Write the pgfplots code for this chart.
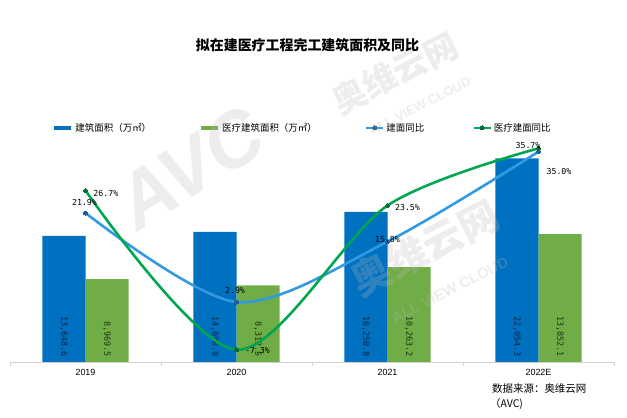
\documentclass[border=0pt]{standalone}
\usepackage{fontspec}
\usepackage{pgfplots}
\usepackage{pgfplotstable}
\pgfplotsset{compat=1.18}
\setmainfont{Liberation Sans}
\newfontfamily\cjk{Noto Sans CJK SC}
\newfontfamily\mono{DejaVu Sans Mono}

\definecolor{barblue}{HTML}{0070C0}
\definecolor{bargreen}{HTML}{70AD47}
\definecolor{lineblue}{HTML}{3399E0}
\definecolor{linegreen}{HTML}{00A650}
\definecolor{mkblue}{HTML}{1F5F9F}
\definecolor{mkgreen}{HTML}{0E6B35}
\definecolor{lblblue}{HTML}{0F2440}
\definecolor{lblgreen}{HTML}{1E3312}
\definecolor{wm}{HTML}{B8B8B8}

% bar values (万㎡)
\pgfplotstableread{
x  area     med
0  13648.6  8969.5
1  14098.0  8312.5
2  16250.8  10263.2
3  22054.3  13852.1
}\bars

% growth rates (%), label offsets in bp
\pgfplotstableread{
x  y     dx    dy
0  21.9  -1    10.4
1  2.9   -1.5  12
2  15.8  0     1.6
3  35.0  20.5  -20
}\blueline
\pgfplotstableread{
x  y     dx    dy
0  26.7  20.3  -2.5
1  -7.3  21    -1
2  23.5  20    -2
3  35.7  -10.5 2.4
}\greenline

\pgfplotsset{
  /pgf/number format/assume math mode=true,
  base/.style={
    at={(10bp,56bp)}, anchor=south west,
    scale only axis, width=604bp, height=232bp,
    xmin=-0.5, xmax=3.5, clip=false,
  },
}

\begin{document}
\begin{tikzpicture}
\useasboundingbox (0,0) rectangle (627bp,418bp);

\begin{axis}[base,
  ymin=0, ymax=25130,
  axis y line=none, axis x line*=bottom,
  axis line style={draw=gray!35},
  xtick={0,1,2,3}, xticklabels={2019,2020,2021,2022E},
  major tick length=0pt,
  xticklabel style={font=\fontsize{9}{10}\selectfont, yshift=-4bp},
  extra x ticks={-0.5,0.5,1.5,2.5,3.5}, extra x tick labels={},
  extra x tick style={major tick length=4bp, tick align=outside, tick style={draw=gray!35}},
  bar width=0.285,
]
\addplot[ybar, bar shift=-0.1425, fill=barblue, draw=none] table[x=x, y=area] {\bars};
\addplot[ybar, bar shift=0.1425, fill=bargreen, draw=none] table[x=x, y=med] {\bars};
% value labels at the foot of each bar
\addplot[draw=none, mark=none, forget plot, point meta=explicit,
  nodes near coords={\pgfmathprintnumber[fixed, fixed zerofill, precision=1, 1000 sep={,}]{\pgfplotspointmeta}},
  every node near coord/.append style={rotate=-90, anchor=east, inner xsep=5bp, inner ysep=0pt,
    font=\mono\fontsize{8.5}{9}\selectfont, text=lblblue}]
  table[x expr=\thisrow{x}-0.1425, y expr=0, meta=area] {\bars};
\addplot[draw=none, mark=none, forget plot, point meta=explicit,
  nodes near coords={\pgfmathprintnumber[fixed, fixed zerofill, precision=1, 1000 sep={,}]{\pgfplotspointmeta}},
  every node near coord/.append style={rotate=-90, anchor=east, inner xsep=5bp, inner ysep=0pt,
    font=\mono\fontsize{8.5}{9}\selectfont, text=lblgreen}]
  table[x expr=\thisrow{x}+0.1425, y expr=0, meta=med] {\bars};
\end{axis}

\begin{axis}[base,
  ymin=-9.906, ymax=39.62,
  axis lines=none,
  legend style={draw=none, fill=none, legend columns=4, at={(0.07,1.0086)}, anchor=west,
    inner sep=0pt, font=\cjk\fontsize{9.5}{10}\selectfont,
    /tikz/every even column/.append style={column sep=46bp}},
  legend cell align=left,
]
\addlegendimage{line legend, draw=barblue, line width=4bp}
\addlegendentry{建筑面积（万㎡）}
\addlegendimage{line legend, draw=bargreen, line width=4bp}
\addlegendentry{医疗建筑面积（万㎡）}
\addplot[smooth, draw=lineblue, line width=2.6bp, mark=*, mark size=2bp,
  mark options={fill=mkblue, draw=mkblue, line width=0pt},
  point meta=y,
  visualization depends on={\thisrow{dx} \as \dx},
  visualization depends on={\thisrow{dy} \as \dy},
  nodes near coords={\pgfmathprintnumber[fixed, fixed zerofill, precision=1]{\pgfplotspointmeta}\%},
  every node near coord/.append style={anchor=center, xshift=\dx bp, yshift=\dy bp,
    font=\mono\fontsize{8.3}{9}\selectfont, text=black}]
  table[x=x, y=y] {\blueline};
\addlegendentry{建面同比}
\addplot[smooth, draw=linegreen, line width=2.6bp, mark=*, mark size=2bp,
  mark options={fill=mkgreen, draw=mkgreen, line width=0pt},
  point meta=y,
  visualization depends on={\thisrow{dx} \as \dx},
  visualization depends on={\thisrow{dy} \as \dy},
  nodes near coords={\pgfmathprintnumber[fixed, fixed zerofill, precision=1]{\pgfplotspointmeta}\%},
  every node near coord/.append style={anchor=center, xshift=\dx bp, yshift=\dy bp,
    font=\mono\fontsize{8.3}{9}\selectfont, text=black}]
  table[x=x, y=y] {\greenline};
\addlegendentry{医疗建面同比}
\end{axis}

% faint watermark
\begin{scope}[every node/.style={text=wm, opacity=0.25, inner sep=0pt}]
\node[rotate=32, font=\bfseries\itshape\fontsize{78}{80}\selectfont] at (190bp,250bp) {AVC};
\node[rotate=27, font=\cjk\bfseries\fontsize{34}{36}\selectfont] at (395bp,345bp) {奥维云网};
\node[rotate=27, font=\bfseries\fontsize{13}{14}\selectfont] at (420bp,312bp) {ALL VIEW CLOUD};
\node[rotate=27, font=\cjk\bfseries\fontsize{40}{42}\selectfont] at (425bp,170bp) {奥维云网};
\node[rotate=27, font=\bfseries\fontsize{15}{16}\selectfont] at (450bp,128bp) {ALL VIEW CLOUD};
\end{scope}

\node[font=\cjk\bfseries\fontsize{14}{16}\selectfont] at (307.5bp,373bp) {拟在建医疗工程完工建筑面积及同比};
\node[font=\cjk\fontsize{10.5}{12}\selectfont, anchor=west, inner sep=0pt] at (492bp,29bp) {数据来源：奥维云网};
\node[font=\cjk\fontsize{10.5}{12}\selectfont, anchor=west, inner sep=0pt] at (490bp,14bp) {（AVC)};
\end{tikzpicture}
\end{document}
